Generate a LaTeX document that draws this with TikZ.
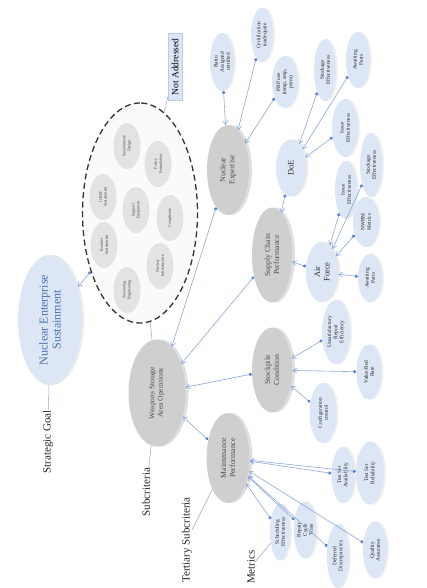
\documentclass[tikz,border=0pt]{standalone}
\usepackage{fontspec}
\setmainfont{Liberation Serif}
\usetikzlibrary{shapes.geometric,arrows.meta,shadows}
\definecolor{mblue}{HTML}{DCE6F4}
\definecolor{lblue}{HTML}{8FA9DC}
\definecolor{dblue}{HTML}{5C80D2}
\definecolor{tblue}{HTML}{4A6FB5}
\begin{document}
\begin{tikzpicture}[x=1pt,y=-1pt,
  every node/.style={rotate=90, align=center, inner sep=0pt},
  sz/.style 2 args={minimum height=#1, minimum width=#2},
  goalnode/.style={ellipse, fill=mblue, text=tblue, font=\fontsize{12}{13}\selectfont,
     drop shadow={opacity=0.15, shadow xshift=2pt, shadow yshift=0pt}},
  subnode/.style={ellipse, fill=gray!38, text=black!70, font=\fontsize{7.5}{8.5}\selectfont,
     drop shadow={opacity=0.25, shadow xshift=3pt, shadow yshift=0pt}},
  tertnode/.style={ellipse, fill=gray!38, text=black!70, font=\fontsize{7.8}{9}\selectfont,
     drop shadow={opacity=0.25, shadow xshift=3pt, shadow yshift=0pt}},
  bluetert/.style={ellipse, fill=mblue, text=black!80, font=\fontsize{8.5}{9.5}\selectfont,
     drop shadow={opacity=0.15, shadow xshift=2pt, shadow yshift=0pt}},
  metric/.style={ellipse, fill=mblue, text=black!85, font=\fontsize{5.4}{6.1}\selectfont,
     drop shadow={opacity=0.12, shadow xshift=2pt, shadow yshift=0pt}},
  innernode/.style={ellipse, fill=gray!22, text=black!75, font=\fontsize{4}{4.8}\selectfont, sz={27}{46}},
  lbl/.style={font=\fontsize{11}{12.5}\selectfont, text=black!85},
  conn/.style={draw=lblue, line width=0.6pt, {Circle[dblue,length=3.2pt]}-{Straight Barb[length=4pt,width=5pt]}},
  plain/.style={draw=lblue, line width=0.5pt},
]
\useasboundingbox (0,0) rectangle (426,588);
\fill[white] (0,0) rectangle (426,588);

% strategic goal
\node[goalnode, sz={64}{130}] (nes) at (50,320) {Nuclear Enterprise\\Sustainment};
\node[lbl] (goallbl) at (48,442) {Strategic Goal};

% not addressed group
\node[ellipse, draw=black!80, line width=1.3pt, dash pattern=on 6pt off 3.5pt, fill=gray!4, sz={115}{220}] (de) at (140,213) {};
\node[rectangle, fill=mblue, draw=lblue!60, line width=0.3pt, minimum width=67pt, minimum height=14pt, font=\fontsize{9.5}{11}\selectfont] (notad) at (175,67) {Not Addressed};
\node[innernode] (in1) at (127,146) {Sustainment/\\Design};
\node[innernode] (in2) at (158,164) {Policy\\Formulation};
\node[innernode] (in3) at (103,197) {ICBM\\Sustainment};
\node[innernode] (in4) at (136,210) {Support\\Equipment};
\node[innernode] (in5) at (170,218) {Compliance};
\node[innernode] (in6) at (104,245) {Bomber\\Sustainment};
\node[innernode] (in7) at (160,266) {Nuclear\\Infrastructure};
\node[innernode] (in8) at (127,290) {Sustaining\\Engineering};

% subcriteria
\node[subnode, sz={57}{107}] (wsa) at (157,393) {Weapons Storage\\Area Operations};
\node[lbl] (sublbl) at (146,492) {Subcriteria};

% tertiary subcriteria
\node[tertnode, sz={42}{90}] (ne) at (228,170) {Nuclear\\Expertise};
\node[bluetert, sz={30}{57}] (doe) at (291,168) {DoE};
\node[tertnode, sz={40}{95}] (scp) at (272,255) {Supply Chain\\Performance};
\node[bluetert, sz={32}{60}] (af) at (322,272) {Air\\Force};
\node[tertnode, sz={40}{85}] (spc) at (272,370) {Stockpile\\Condition};
\node[tertnode, sz={43}{90}] (mp) at (228,458) {Maintenance\\Performance};
\node[lbl] (tertlbl) at (187,540) {Tertiary Subcriteria};

% metrics
\node[metric, sz={24}{58}] (ratio) at (222,62) {Ratio\\Assigned\\certified};
\node[metric, sz={22}{54}] (cert) at (262,35) {Certification\\inadequate};
\node[metric, sz={26}{52}] (prp) at (285,82) {PRP use\\(temp, emp,\\perm)};
\node[metric, sz={22}{62}] (stk1) at (325,70) {Stockage\\Effectiveness};
\node[metric, sz={24}{56}] (aw1) at (358,60) {Awaiting\\Parts};
\node[metric, sz={26}{58}] (iss1) at (345,128) {Issue\\Effectiveness};
\node[metric, sz={22}{58}] (iss2) at (346,190) {Issue\\Effectiveness};
\node[metric, sz={22}{64}] (stk2) at (371,165) {Stockage\\Effectiveness};
\node[metric, sz={26}{50}] (nwrm) at (366,222) {NWRM\\Metrics};
\node[metric, sz={24}{48}] (aw2) at (370,278) {Awaiting\\Parts};
\node[metric, sz={28}{64}] (ure) at (336,332) {Unsatisfactory\\Report\\Efficiency};
\node[metric, sz={25}{55}] (vrr) at (369,372) {Value/Red\\Rate};
\node[metric, sz={27}{60}] (cfg) at (323,413) {Configuration\\control};
\node[metric, sz={23}{56}] (tsa) at (343,475) {Test Set\\Availability};
\node[metric, sz={28}{63}] (tsr) at (370,473) {Test Set\\Reliability};
\node[metric, sz={20}{57}] (sch) at (280,532) {Scheduling\\Effectiveness};
\node[metric, sz={20}{57}] (rct) at (305,530) {Repair\\Cycle\\Time};
\node[metric, sz={22}{64}] (dd) at (338,556) {Deferred\\Discrepancies};
\node[metric, sz={24}{57}] (qa) at (375,550) {Quality\\Assurance};
\node[lbl] (metlbl) at (251,567) {Metrics};

% label lines
\draw[plain] (goallbl) -- (nes);
\draw[plain] (sublbl) -- (wsa);
\draw[plain] (tertlbl) -- (mp);
\draw[plain] (metlbl) -- (sch);
\draw[plain] (notad) -- (de);
\draw[plain] (de) -- (wsa);

% connectors
\draw[conn] (de) -- (nes);
\draw[conn] (ne) -- (wsa);
\draw[conn] (scp) -- (wsa);
\draw[conn] (spc) -- (wsa);
\draw[conn] (mp) -- (wsa);
\draw[conn] (ratio) -- (ne);
\draw[conn] (cert) -- (ne);
\draw[conn] (prp) -- (ne);
\draw[conn] (stk1) -- (doe);
\draw[conn] (aw1) -- (doe);
\draw[conn] (iss1) -- (doe);
\draw[conn] (doe) -- (scp);
\draw[conn] (af) -- (scp);
\draw[conn] (iss2) -- (af);
\draw[conn] (stk2) -- (af);
\draw[conn] (nwrm) -- (af);
\draw[conn] (aw2) -- (af);
\draw[conn] (ure) -- (spc);
\draw[conn] (vrr) -- (spc);
\draw[conn] (cfg) -- (spc);
\draw[conn] (tsa) -- (mp);
\draw[conn] (tsr) -- (mp);
\draw[conn] (sch) -- (mp);
\draw[conn] (rct) -- (mp);
\draw[conn] (dd) -- (mp);
\draw[conn] (qa) -- (mp);
\end{tikzpicture}
\end{document}
